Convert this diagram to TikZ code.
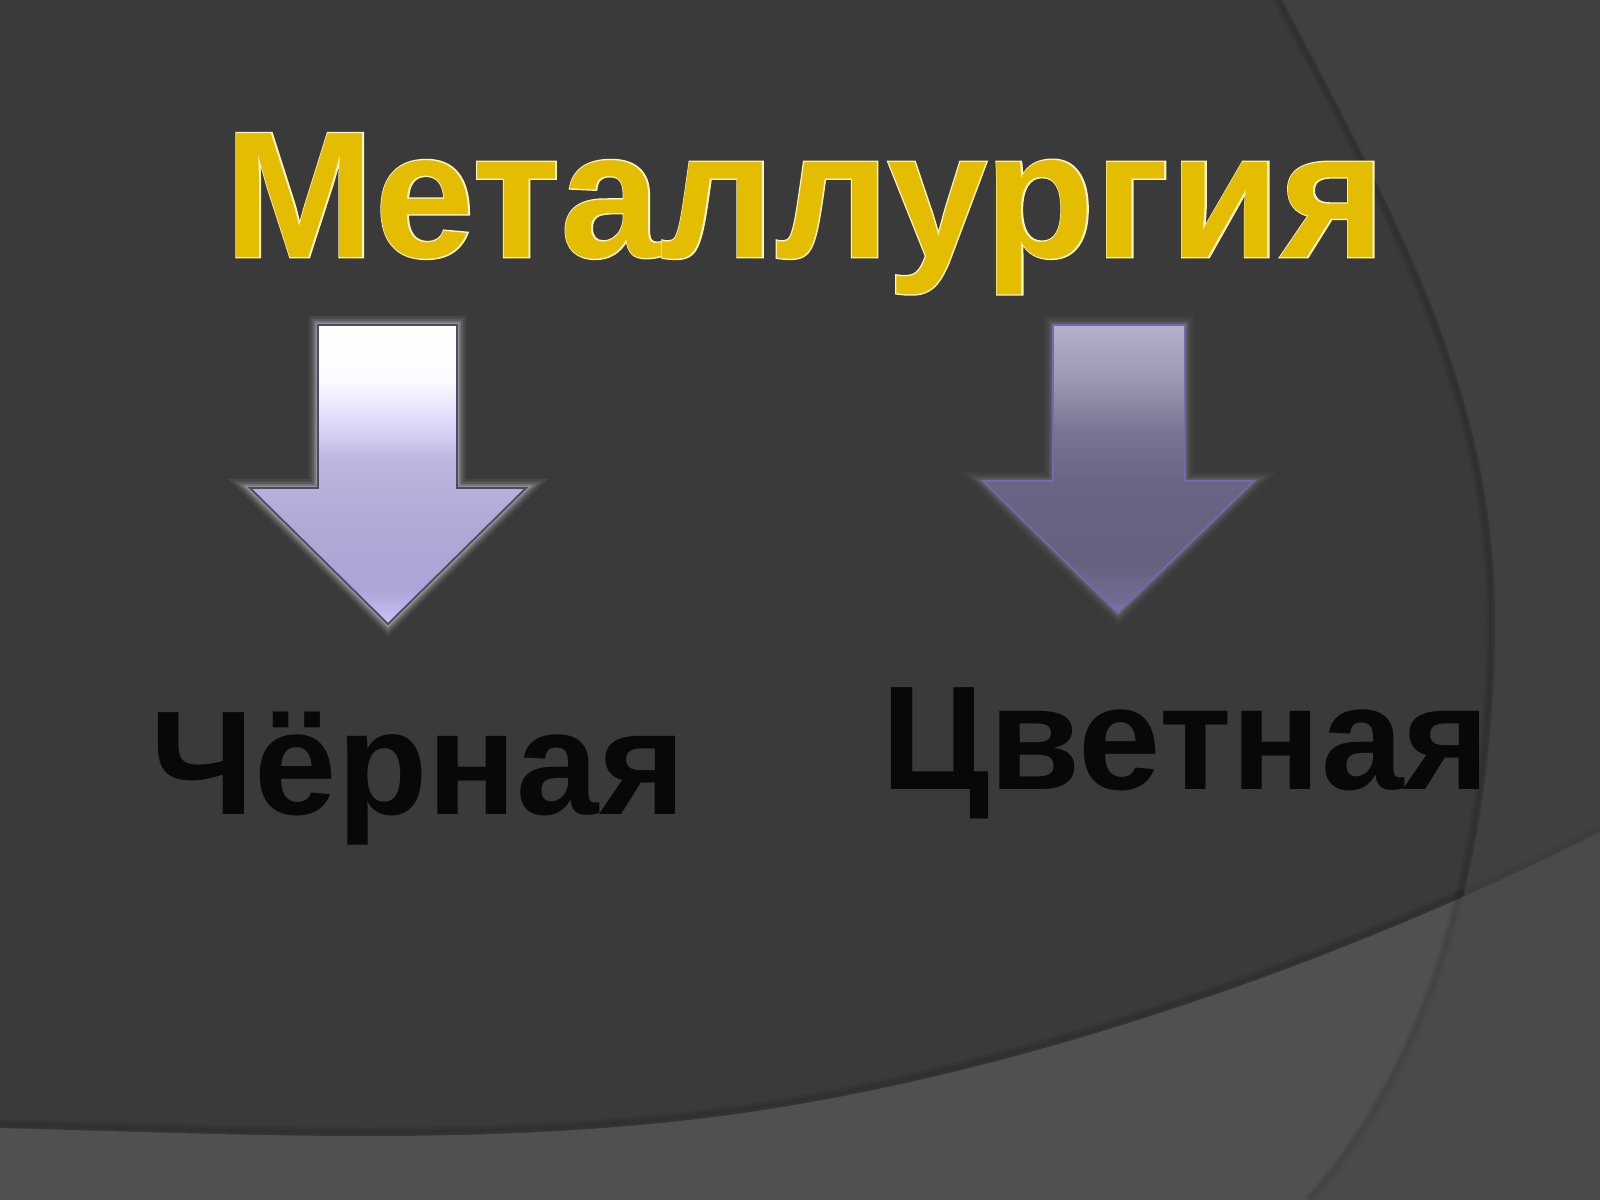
\documentclass[tikz,border=0pt]{standalone}
\usepackage{fontspec}
\setmainfont{Liberation Sans}
\newfontfamily\outlinefont{Liberation Sans}[UprightFeatures={FakeBold=1.5},BoldFeatures={FakeBold=1.5}]
\definecolor{bgdark}{HTML}{3A3A3A}
\definecolor{bglight}{HTML}{505050}
\definecolor{bgright}{HTML}{464646}
\definecolor{gold}{HTML}{E4BC00}
\definecolor{cream}{HTML}{FFF4C4}
\definecolor{outlineL}{HTML}{4E4A68}
\definecolor{outlineR}{HTML}{6F6AB2}
\definecolor{lA}{HTML}{CAC4F8}
\definecolor{lB}{HTML}{ABA5D8}
\definecolor{lC}{HTML}{B0AAD6}
\definecolor{lD}{HTML}{BCB6E0}
\definecolor{lE}{HTML}{E0DCFB}
\definecolor{lF}{HTML}{FCFBFF}
\definecolor{lG}{HTML}{FFFFFF}
\definecolor{rA}{HTML}{7D77A4}
\definecolor{rB}{HTML}{716B93}
\definecolor{rC}{HTML}{66617F}
\definecolor{rD}{HTML}{6A6584}
\definecolor{rE}{HTML}{7A7592}
\definecolor{rF}{HTML}{9C97B2}
\definecolor{rG}{HTML}{B6B0CC}
\pgfdeclareverticalshading{arrowLshade}{100bp}{
  color(0bp)=(lA);
  color(25bp)=(lA);
  color(30.7bp)=(lB);
  color(42.4bp)=(lC);
  color(52.4bp)=(lD);
  color(59.1bp)=(lE);
  color(65.8bp)=(lF);
  color(75bp)=(lG);
  color(100bp)=(lG)}
\pgfdeclareverticalshading{arrowRshade}{100bp}{
  color(0bp)=(rA);
  color(25bp)=(rA);
  color(27.3bp)=(rB);
  color(34.2bp)=(rC);
  color(48.1bp)=(rD);
  color(56.8bp)=(rE);
  color(65.5bp)=(rF);
  color(75bp)=(rG);
  color(100bp)=(rG)}
\newcommand\titlefontsel{\fontsize{51.2pt}{60pt}\selectfont\bfseries}
\newcommand\lowfontsel{\fontsize{42.1pt}{50pt}\selectfont\bfseries}
\tikzset{
  glowL/.style={draw=white, line join=miter},
  glowR/.style={draw=gray!90, line join=miter},
  lowtext/.style={anchor=base west, inner sep=0pt, font=\lowfontsel, text=black!97},
  titleoutline/.style={anchor=base west, inner sep=0pt, font=\outlinefont\titlefontsel, text=cream},
  titlemain/.style={anchor=base west, inner sep=0pt, font=\titlefontsel, text=gold},
}
\begin{document}
\begin{tikzpicture}[x=0.01cm,y=-0.01cm]
\useasboundingbox (0,0) rectangle (1600,1200);
% background
\fill[bgdark] (0,0) rectangle (1600,1200);
% soft shadow above the lower band
\foreach \d/\o in {6/0.04, 4/0.05, 2/0.06}
  \draw[black, opacity=\o, line width=2pt] (0,1128-\d) .. controls (240,1134-\d) and (474,1147-\d) .. (714,1117-\d) .. controls (1014,1079-\d) and (1350,959-\d) .. (1600,832-\d);
\fill[bglight] (0,1200) -- (0,1128) .. controls (240,1134) and (474,1147) .. (714,1117) .. controls (1014,1079) and (1350,959) .. (1600,832) -- (1600,1200) -- cycle;
% right region with soft shadow along its edge
\foreach \d/\o in {6/0.04, 4/0.05, 2/0.06}
  \draw[black, opacity=\o, line width=2pt] (1282-\d,0) .. controls (1404-\d,230) and (1495-\d,400) .. (1495-\d,620) .. controls (1495-\d,820) and (1448-\d,1050) .. (1313-\d,1200);
\fill[bgright, opacity=0.57] (1600,0) -- (1282,0) .. controls (1404,230) and (1495,400) .. (1495,620) .. controls (1495,820) and (1448,1050) .. (1313,1200) -- (1600,1200) -- cycle;
% title
\node[titleoutline] (titleout) at (224,257) {Металлургия};
\node[titlemain] (title) at (224,257) {Металлургия};
% left arrow
\foreach \w/\o in {5pt/0.07, 3.6pt/0.1, 2.4pt/0.15, 1.4pt/0.22}
  \draw[glowL, line width=\w, opacity=\o] (318,325) -- (457,325) -- (457,488) -- (526,488) -- (388,624) -- (250,488) -- (318,488) -- cycle;
\path[shading=arrowLshade, draw=outlineL, line width=0.5pt] (318,325) -- (457,325) -- (457,488) -- (526,488) -- (388,624) -- (250,488) -- (318,488) -- cycle;
% right arrow
\foreach \w/\o in {5pt/0.07, 3.6pt/0.1, 2.4pt/0.15, 1.4pt/0.22}
  \draw[glowR, line width=\w, opacity=\o] (1053,325) -- (1185,325) -- (1185,481) -- (1254,481) -- (1118,613) -- (983,481) -- (1053,481) -- cycle;
\path[shading=arrowRshade, draw=outlineR, line width=0.5pt] (1053,325) -- (1185,325) -- (1185,481) -- (1254,481) -- (1118,613) -- (983,481) -- (1053,481) -- cycle;
% labels
\node[lowtext] (cherna) at (150,814) {Чёрная};
\node[lowtext] (tsvet) at (881,789) {Цветная};
\end{tikzpicture}
\end{document}
